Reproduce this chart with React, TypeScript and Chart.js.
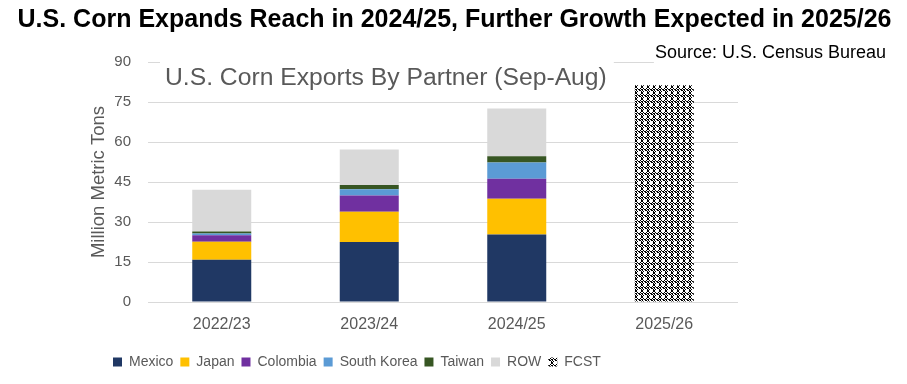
import React, { useEffect, useRef } from "react";
import { Chart, registerables } from "chart.js";

Chart.register(...registerables);

const categories = ["2022/23", "2023/24", "2024/25", "2025/26"];
const mexico = [15.8, 22.5, 25.3, null];
const japan = [6.8, 11.3, 13.4, null];
const colombia = [2.4, 6.1, 7.5, null];
const southKorea = [0.7, 2.4, 6.1, null];
const taiwan = [0.7, 1.6, 2.4, null];
const row = [15.7, 13.3, 17.9, null];
const fcst = [null, null, null, 81.3];
const yTicks = [0, 15, 30, 45, 60, 75, 90];

const mainTitle = "U.S. Corn Expands Reach in 2024/25, Further Growth Expected in 2025/26";
const sourceText = "Source: U.S. Census Bureau";
const innerTitle = "U.S. Corn Exports By Partner (Sep-Aug)";
const yTitle = "Million Metric Tons";

const FONT = '"Liberation Sans", Arial, sans-serif';

function makePattern(ctx: CanvasRenderingContext2D) {
  const tile = document.createElement("canvas");
  tile.width = 6;
  tile.height = 6;
  const t = tile.getContext("2d")!;
  t.fillStyle = "#ffffff";
  t.fillRect(0, 0, 6, 6);
  const rows = [
    "100110",
    "010001",
    "100001",
    "100001",
    "010010",
    "101101",
  ];
  t.fillStyle = "#000000";
  rows.forEach((r, y) => {
    for (let x = 0; x < r.length; x++) if (r[x] === "1") t.fillRect(x, y, 1, 1);
  });
  return ctx.createPattern(tile, "repeat")!;
}

const headerPlugin = {
  id: "headerTexts",
  afterLayout(chart: any) {
    const lg = chart.legend;
    if (lg) {
      const w = lg.right - lg.left;
      lg.left = 106;
      lg.right = lg.left + w;
    }
  },
  afterDraw(chart: any) {
    const ctx = chart.ctx as CanvasRenderingContext2D;
    const area = chart.chartArea;
    ctx.save();
    ctx.textBaseline = "alphabetic";
    // main title
    ctx.font = `bold 25px ${FONT}`;
    ctx.fillStyle = "#000000";
    ctx.textAlign = "center";
    ctx.fillText(mainTitle, chart.width / 2 + 1, 27);
    // source
    ctx.font = `18px ${FONT}`;
    const sw = ctx.measureText(sourceText).width;
    const sx = chart.width - 21 - sw;
    ctx.fillStyle = "#ffffff";
    ctx.fillRect(sx - 1, 40, chart.width - sx + 1, 25);
    ctx.fillStyle = "#000000";
    ctx.textAlign = "left";
    ctx.fillText(sourceText, sx, 58);
    // inner title
    ctx.font = `24.7px ${FONT}`;
    const iw = ctx.measureText(innerTitle).width;
    const ix = area.left + 17;
    ctx.fillStyle = "#ffffff";
    ctx.fillRect(ix - 5, 57, iw + 12, 38);
    ctx.fillStyle = "#595959";
    ctx.fillText(innerTitle, ix, 85);
    ctx.restore();
  },
};

export default function App() {
  const ref = useRef<HTMLCanvasElement>(null);
  useEffect(() => {
    document.body.style.margin = "0";
    const canvas = ref.current!;
    const ctx = canvas.getContext("2d")!;
    const pattern = makePattern(ctx);
    Chart.defaults.font.family = FONT;
    const mk = (label: string, data: (number | null)[], color: any) => ({
      label,
      data,
      backgroundColor: color,
      borderWidth: 0,
      barPercentage: 0.4,
      categoryPercentage: 1,
    });
    const chart = new Chart(canvas, {
      type: "bar",
      data: {
        labels: categories,
        datasets: [
          mk("Mexico", mexico, "#203864"),
          mk("Japan", japan, "#FFC000"),
          mk("Colombia", colombia, "#7030A0"),
          mk("South Korea", southKorea, "#5B9BD5"),
          mk("Taiwan", taiwan, "#375623"),
          mk("ROW", row, "#D9D9D9"),
          mk("FCST", fcst, pattern),
        ],
      },
      options: {
        animation: false,
        responsive: false,
        devicePixelRatio: 1,
        layout: { padding: { left: 88, right: 169, top: 62, bottom: 5 } },
        plugins: {
          tooltip: { enabled: false },
          title: { display: false },
          legend: {
            display: true,
            position: "bottom",
            align: "start",
            labels: {
              boxWidth: 9,
              boxHeight: 9,
              padding: 7,
              color: "#595959",
              font: { size: 14, family: FONT },
            },
          },
        },
        scales: {
          x: {
            stacked: true,
            grid: { display: false, drawTicks: false },
            border: { display: false },
            ticks: { color: "#595959", font: { size: 16, family: FONT }, padding: 13 },
            afterFit: (s: any) => {
              s.height = 46;
            },
          },
          y: {
            stacked: true,
            min: 0,
            max: 90,
            afterBuildTicks: (s: any) => {
              s.ticks = yTicks.map((v) => ({ value: v }));
            },
            grid: { color: "#D9D9D9", drawTicks: false, lineWidth: 1 },
            border: { display: false },
            ticks: { color: "#595959", font: { size: 15, family: FONT }, padding: 17 },
            title: {
              display: true,
              text: yTitle,
              color: "#595959",
              font: { size: 18.5, family: FONT },
              padding: 0,
            },
            afterFit: (s: any) => {
              s.width = 60;
            },
          },
        },
      },
      plugins: [headerPlugin],
    });
    return () => chart.destroy();
  }, []);
  return (
    <div style={{ width: 907, height: 384 }}>
      <canvas ref={ref} width={907} height={384} />
    </div>
  );
}
